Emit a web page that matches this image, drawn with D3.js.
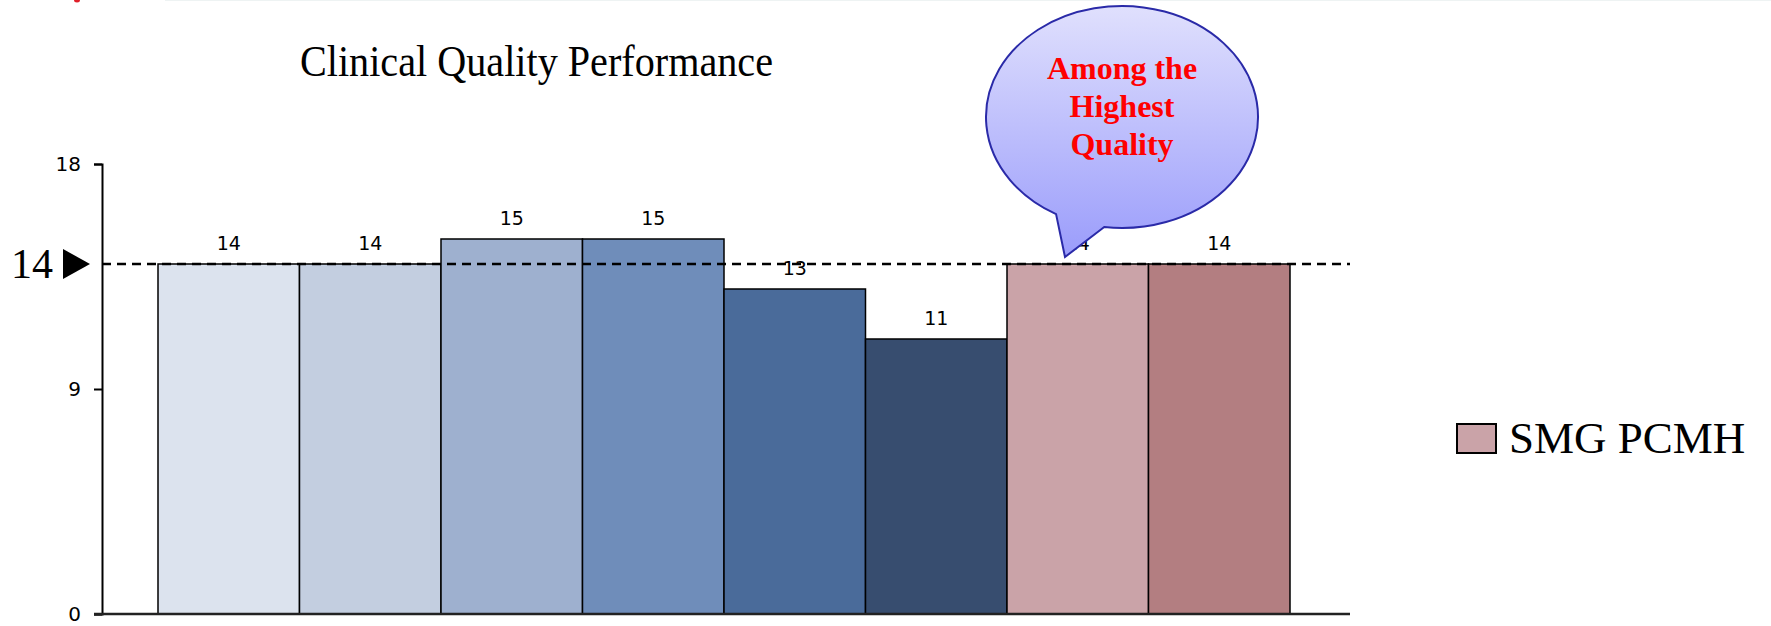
<!DOCTYPE html>
<html>
<head>
<meta charset="utf-8">
<script src="https://cdn.jsdelivr.net/npm/d3@7/dist/d3.min.js"></script>
<style>
  html, body { margin: 0; padding: 0; background: #ffffff; }
  svg { display: block; }
</style>
</head>
<body>
<script>
// ---- data ----
const categories = ["Peer A", "Peer B", "Peer C", "Peer D", "Peer E", "Peer F", "SMG PCMH 1", "SMG PCMH 2"];
const values = [14, 14, 15, 15, 13, 11, 14, 14];
const barColors = ["#dce3ee", "#c3cee0", "#9eb0cf", "#6f8dba", "#4a6b9a", "#374d6f", "#caa3a8", "#b37e81"];
const yTicks = [0, 9, 18];
const benchmark = 14;
const titleText = "Clinical Quality Performance";
const legendLabel = "SMG PCMH";
const legendColor = "#caa3a8";
const bubbleLines = ["Among the", "Highest", "Quality"];

const W = 1771, H = 626;
const svg = d3.select("body").append("svg").attr("width", W).attr("height", H);

// faint top border & red mark (slide remnants)
svg.append("line").attr("x1", 165).attr("x2", W).attr("y1", 0.5).attr("y2", 0.5)
  .attr("stroke", "#eef3f3").attr("stroke-width", 1);
svg.append("ellipse").attr("cx", 77).attr("cy", 0).attr("rx", 3).attr("ry", 2.5).attr("fill", "#e0202a");

const x = d3.scaleBand().domain(categories).range([158, 1290]).padding(0);
const y = d3.scaleLinear().domain([0, 18]).range([614, 164]);

// title
svg.append("text").attr("x", 300).attr("y", 76)
  .attr("font-family", "Liberation Serif, serif").attr("font-size", 44)
  .attr("textLength", 473).attr("lengthAdjust", "spacingAndGlyphs")
  .attr("fill", "#000").text(titleText);

// bars
svg.append("g").selectAll("rect").data(values).join("rect")
  .attr("x", (d, i) => x(categories[i]))
  .attr("y", d => y(d))
  .attr("width", x.bandwidth())
  .attr("height", d => y(0) - y(d))
  .attr("fill", (d, i) => barColors[i])
  .attr("stroke", "#000").attr("stroke-width", 1.5);

// value labels
svg.append("g").selectAll("text").data(values).join("text")
  .attr("x", (d, i) => x(categories[i]) + x.bandwidth() / 2)
  .attr("y", d => y(d) - 14)
  .attr("text-anchor", "middle")
  .attr("font-family", "DejaVu Sans, sans-serif").attr("font-size", 19)
  .attr("fill", "#000").text(d => d);

// y axis
const yAxis = d3.axisLeft(y).tickValues(yTicks).tickSize(8).tickPadding(13);
const gy = svg.append("g").attr("transform", "translate(102,0)").call(yAxis);
gy.select(".domain").attr("stroke", "#000").attr("stroke-width", 2);
gy.selectAll(".tick line").attr("stroke", "#000").attr("stroke-width", 2);
gy.selectAll(".tick text").attr("font-family", "DejaVu Sans, sans-serif").attr("font-size", 20).attr("fill", "#000");

// baseline
svg.append("line").attr("x1", 94).attr("x2", 1350).attr("y1", y(0)).attr("y2", y(0))
  .attr("stroke", "#222").attr("stroke-width", 2.5);

// benchmark dashed line
svg.append("line").attr("x1", 102).attr("x2", 1350).attr("y1", y(benchmark)).attr("y2", y(benchmark))
  .attr("stroke", "#000").attr("stroke-width", 2.5).attr("stroke-dasharray", "9,6");

// benchmark marker "14 ▶"
svg.append("text").attr("x", 11).attr("y", y(benchmark) + 14)
  .attr("font-family", "Liberation Serif, serif").attr("font-size", 42)
  .attr("fill", "#000").text(benchmark);
const ym = y(benchmark);
svg.append("path").attr("d", `M63,${ym - 15}L63,${ym + 15}L90,${ym}Z`).attr("fill", "#000");

// legend
svg.append("rect").attr("x", 1457).attr("y", 424).attr("width", 39).attr("height", 29)
  .attr("fill", legendColor).attr("stroke", "#000").attr("stroke-width", 2);
svg.append("text").attr("x", 1509).attr("y", 453)
  .attr("font-family", "Liberation Serif, serif").attr("font-size", 45)
  .attr("fill", "#000").text(legendLabel);

// speech bubble
const defs = svg.append("defs");
const grad = defs.append("linearGradient").attr("id", "bub")
  .attr("gradientUnits", "userSpaceOnUse").attr("x1", 0).attr("y1", 6).attr("x2", 0).attr("y2", 258);
grad.append("stop").attr("offset", 0).attr("stop-color", "#e0e0fd");
grad.append("stop").attr("offset", 1).attr("stop-color", "#9a9cfb");

const cx = 1122, cy = 117, rx = 136, ry = 111;
const ta = 119 * Math.PI / 180, tb = 97.5 * Math.PI / 180;
const A = [cx + rx * Math.cos(ta), cy + ry * Math.sin(ta)];
const B = [cx + rx * Math.cos(tb), cy + ry * Math.sin(tb)];
const tip = [1065, 257];
svg.append("path")
  .attr("d", `M${B[0]},${B[1]} A${rx},${ry} 0 1 0 ${A[0]},${A[1]} L${tip[0]},${tip[1]} Z`)
  .attr("fill", "url(#bub)").attr("stroke", "#2a2aa8").attr("stroke-width", 2)
  .attr("stroke-linejoin", "miter");

svg.append("g").selectAll("text").data(bubbleLines).join("text")
  .attr("x", cx).attr("y", (d, i) => 79 + i * 38)
  .attr("text-anchor", "middle")
  .attr("font-family", "Liberation Serif, serif").attr("font-weight", "bold").attr("font-size", 32)
  .attr("fill", "#ff0000").text(d => d);
</script>
</body>
</html>
